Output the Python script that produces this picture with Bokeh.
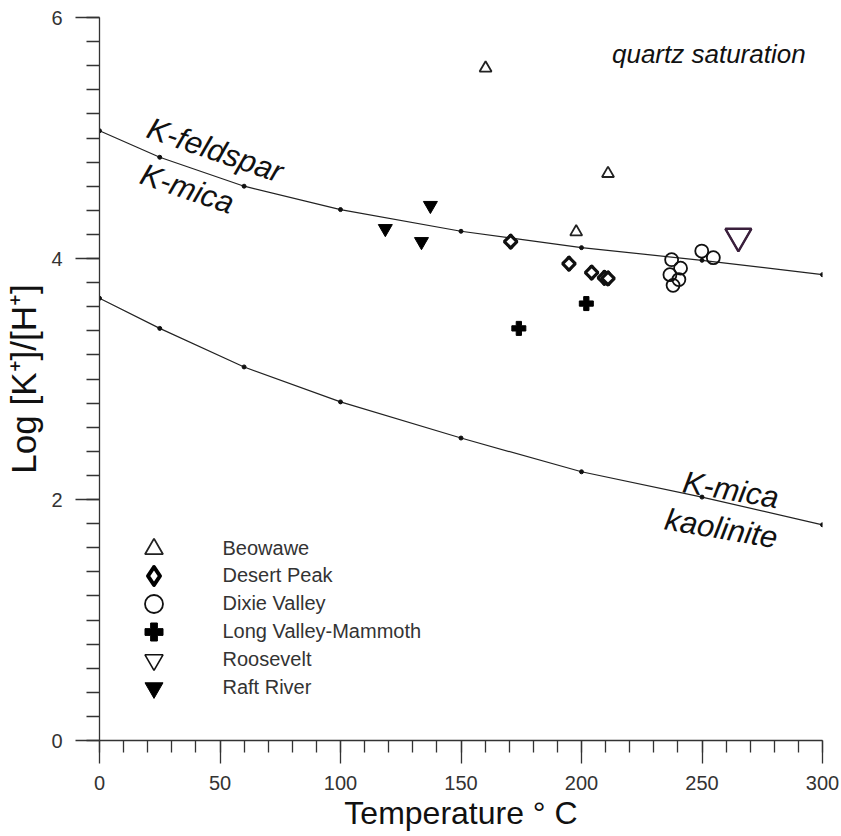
from bokeh.plotting import figure
from bokeh.models import Range1d, Legend, LegendItem, FixedTicker, Label
from bokeh.embed import file_html
from bokeh.resources import INLINE

# ---- data ----
curve_t = [0, 25, 60, 100, 150, 200, 250, 300]
kfeld_kmica = [5.06, 4.84, 4.60, 4.406, 4.226, 4.09, 3.985, 3.866]
kmica_kaol = [3.67, 3.42, 3.10, 2.81, 2.51, 2.23, 2.02, 1.79]

beowawe_t = [160.2, 211.0, 197.8]
beowawe_v = [5.58, 4.705, 4.221]
desert_t = [170.6, 194.8, 204.2, 209.5, 211.0]
desert_v = [4.14, 3.957, 3.883, 3.84, 3.835]
dixie_t = [237.4, 241.1, 236.7, 240.4, 238.0, 249.9, 254.7]
dixie_v = [3.99, 3.92, 3.866, 3.825, 3.777, 4.062, 4.007]
longvalley_t = [174.0, 202.0]
longvalley_v = [3.42, 3.626]
roosevelt_t = [265.1]
roosevelt_v = [4.184]
raft_t = [118.6, 133.6, 137.3]
raft_v = [4.248, 4.14, 4.44]

x_major = [0, 50, 100, 150, 200, 250, 300]
x_minor = list(range(0, 301, 10))
y_major = [0, 2, 4, 6]
y_minor = [round(i * 0.2, 1) for i in range(31)]

legend_names = ["Beowawe", "Desert Peak", "Dixie Valley", "Long Valley-Mammoth",
                "Roosevelt", "Raft River"]

FONT = "Liberation Sans"

p = figure(frame_width=723, frame_height=723, x_range=Range1d(0, 300), y_range=Range1d(0, 6),
           output_backend="svg", toolbar_location=None,
           min_border_left=99, min_border_right=19, min_border_top=17, min_border_bottom=90)
p.outline_line_color = None
p.xgrid.visible = False
p.ygrid.visible = False
p.background_fill_color = "white"

for ax in (p.xaxis[0], p.yaxis[0]):
    ax.axis_line_color = "#333333"
    ax.axis_line_width = 1.3
    ax.major_tick_line_color = "#333333"
    ax.minor_tick_line_color = "#333333"
    ax.major_tick_line_width = 1.3
    ax.minor_tick_line_width = 1.3
    ax.major_tick_in = 0
    ax.minor_tick_in = 0
    ax.major_label_text_font = FONT
    ax.major_label_text_font_size = "20px"
    ax.major_label_text_color = "#333333"
    ax.axis_label_text_font = FONT
    ax.axis_label_text_font_style = "normal"
    ax.axis_label_text_color = "#111111"

p.xaxis.ticker = FixedTicker(ticks=x_major, minor_ticks=x_minor)
p.yaxis.ticker = FixedTicker(ticks=y_major, minor_ticks=y_minor)
p.xaxis.major_tick_out = 23
p.xaxis.minor_tick_out = 12
p.yaxis.major_tick_out = 24
p.yaxis.minor_tick_out = 13
p.xaxis.major_label_standoff = 12
p.yaxis.major_label_standoff = 13
p.xaxis.axis_label = "Temperature ° C"
p.xaxis.axis_label_text_font_size = "32px"
p.xaxis.axis_label_standoff = 2
p.yaxis.axis_label = "Log [K\u207a]/[H\u207a]"
p.yaxis.axis_label_text_font_size = "35px"
p.yaxis.axis_label_standoff = 5

# curves
p.line(curve_t, kfeld_kmica, line_color="#222222", line_width=1.2)
p.scatter(curve_t, kfeld_kmica, size=4, color="#111111")
p.line(curve_t, kmica_kaol, line_color="#222222", line_width=1.2)
p.scatter(curve_t, kmica_kaol, size=4, color="#111111")

# data points
r_beo = p.scatter(beowawe_t, beowawe_v, marker="triangle", size=12, fill_color=None,
                  line_color="#222222", line_width=1.8)
# diamond copy underneath (hidden by the rotated squares) serves as the legend swatch
r_des = p.scatter(desert_t, desert_v, marker="diamond", size=12, fill_color="white",
                  line_color="#000000", line_width=4, line_join="round")
p.scatter(desert_t, desert_v, marker="square", angle=0.785, size=9, fill_color="white",
          line_color="#111111", line_width=3.2)
r_dix = p.scatter(dixie_t, dixie_v, marker="circle", size=13, fill_color=None,
                  line_color="#111111", line_width=1.8)
r_lv = p.scatter(longvalley_t, longvalley_v, marker="plus", size=14, fill_color="#000000",
                 line_color="#000000", line_width=1)
# black copy underneath serves as the legend swatch
r_roo = p.scatter(roosevelt_t, roosevelt_v, marker="inverted_triangle", size=26, fill_color=None,
                  line_color="#111111", line_width=1.6)
p.scatter(roosevelt_t, roosevelt_v, marker="inverted_triangle", size=26, fill_color=None,
          line_color="#3a1f3c", line_width=2.4)
r_raft = p.scatter(raft_t, raft_v, marker="inverted_triangle", size=14, fill_color="#000000",
                   line_color="#000000", line_width=1)

legend_renderers = [r_beo, r_des, r_dix, r_lv, r_roo, r_raft]

# one single-item legend per entry (gives large swatches with tight spacing)
first_bottom = 169.5
step = 27.8
for i, (name, r) in enumerate(zip(legend_names, legend_renderers)):
    lg = Legend(items=[LegendItem(label=name, renderers=[r])],
                location=(31.5, first_bottom - i * step), glyph_width=45, glyph_height=45,
                padding=0, margin=0, label_standoff=47, border_line_color=None,
                background_fill_alpha=0, label_text_font=FONT,
                label_text_font_size="20px", label_text_color="#333333",
                label_height=20, inactive_fill_alpha=0)
    p.add_layout(lg)

# annotations
def note(x, y, txt, size, angle=0.0, align="center", baseline="middle"):
    p.add_layout(Label(x=x, y=y, text=txt, angle=angle, text_font=FONT,
                       text_font_size=size, text_font_style="italic",
                       text_color="#111111", text_align=align, text_baseline=baseline))

note(293, 5.70, "quartz saturation", "26px", 0.0, "right", "alphabetic")
note(48, 4.90, "K-feldspar", "31px", -0.33)
note(36.4, 4.58, "K-mica", "31px", -0.33)
note(262, 2.08, "K-mica", "31px", -0.17)
note(258, 1.76, "kaolinite", "31px", -0.17)

open("out.html", "w").write(file_html(p, INLINE))
